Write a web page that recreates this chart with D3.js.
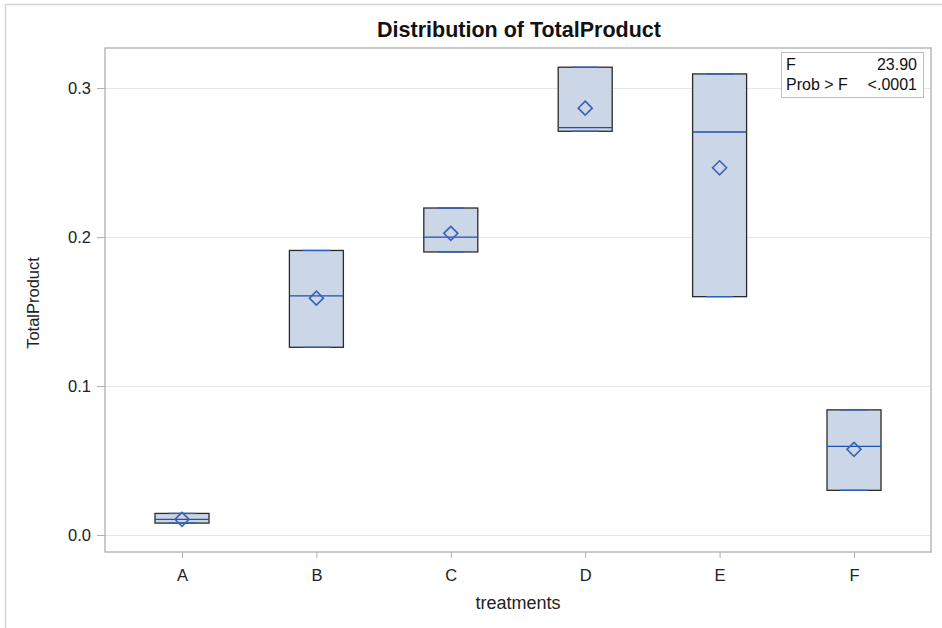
<!DOCTYPE html>
<html><head><meta charset="utf-8">
<script src="https://cdn.jsdelivr.net/npm/d3@7"></script>
<style>body{margin:0;background:#fff}svg{display:block;font-family:"Liberation Sans",Arial,sans-serif}</style>
</head><body>
<svg id="c" width="942" height="628"></svg>
<script>
const categories = ["A","B","C","D","E","F"];
const minV    = [0.008, 0.126, 0.190, 0.271, 0.160, 0.030];
const q1V     = [0.008, 0.126, 0.190, 0.271, 0.160, 0.030];
const medianV = [0.0105,0.1605,0.200, 0.2735,0.2705,0.0595];
const q3V     = [0.0145,0.191, 0.2195,0.314, 0.3095,0.084];
const maxV    = [0.0145,0.191, 0.2195,0.314, 0.3095,0.084];
const meanV   = [0.0105,0.159, 0.2025,0.2865,0.2465,0.0575];
const yTicks  = [0.0, 0.1, 0.2, 0.3];
const statLabels = ["F", "Prob > F"];
const statValues = ["23.90", "<.0001"];

const svg = d3.select("#c");
const L = 105, R = 931, T = 48, B = 552;

// outer border
svg.append("path").attr("d","M5.5,700V4.5H942").attr("fill","none").attr("stroke","#d4d4d4").attr("stroke-width",1.5);

const x = d3.scalePoint().domain(categories).range([L+77, R-77]);
const y = d3.scaleLinear().domain([-0.0114, 0.3269]).range([B, T]);

// grid
svg.append("g").selectAll("line").data(yTicks).join("line")
  .attr("x1",L).attr("x2",R).attr("y1",d=>Math.round(y(d))+0.5).attr("y2",d=>Math.round(y(d))+0.5)
  .attr("stroke","#e6e6e6").attr("stroke-width",1);

const bw = 54;
const g = svg.append("g");
categories.forEach((c,i)=>{
  const cx = x(c);
  const yt = y(q3V[i]), yb = y(q1V[i]);
  g.append("rect").attr("x",cx-bw/2).attr("y",yt).attr("width",bw).attr("height",Math.max(1,yb-yt))
    .attr("fill","#cbd6e6").attr("stroke","#2b2b2b").attr("stroke-width",1.3);
  [maxV[i],minV[i]].forEach(v=>{
    g.append("line").attr("x1",cx-bw/4).attr("x2",cx+bw/4).attr("y1",y(v)).attr("y2",y(v))
      .attr("stroke","#2f5fc0").attr("stroke-width",1.3);
  });
  g.append("line").attr("x1",cx-bw/2).attr("x2",cx+bw/2).attr("y1",y(medianV[i])).attr("y2",y(medianV[i]))
    .attr("stroke","#1f4fb0").attr("stroke-width",1.3);
  const my = y(meanV[i]), s = 7;
  g.append("path").attr("d",`M${cx},${my-s}L${cx+s},${my}L${cx},${my+s}L${cx-s},${my}Z`)
    .attr("fill","none").attr("stroke","#3a62b8").attr("stroke-width",1.6);
});

// frame
svg.append("rect").attr("x",L).attr("y",T).attr("width",R-L).attr("height",B-T)
  .attr("fill","none").attr("stroke","#aab0b4").attr("stroke-width",1.3);

const FF = "Liberation Sans, Arial, sans-serif";
// y axis
const ya = svg.append("g").attr("transform",`translate(${L},0)`)
  .call(d3.axisLeft(y).tickValues(yTicks).tickFormat(d3.format(".1f")).tickSize(8).tickPadding(6));
ya.select(".domain").remove();
ya.selectAll("line").attr("stroke","#aab0b4");
ya.selectAll("text").attr("font-size",16.5).attr("fill","#222").attr("font-family",FF);

// x axis
const xa = svg.append("g").attr("transform",`translate(0,${B})`)
  .call(d3.axisBottom(x).tickSize(6).tickPadding(11));
xa.select(".domain").remove();
xa.selectAll("line").attr("stroke","#aab0b4");
xa.selectAll("text").attr("font-size",16.5).attr("fill","#222").attr("font-family",FF);

// titles
svg.append("text").attr("x",519).attr("y",37).attr("text-anchor","middle")
  .attr("font-size",21.5).attr("font-weight","bold").attr("fill","#111").text("Distribution of TotalProduct");
svg.append("text").attr("x",518).attr("y",609).attr("text-anchor","middle")
  .attr("font-size",18).attr("fill","#222").text("treatments");
svg.append("text").attr("transform","translate(39,303) rotate(-90)").attr("text-anchor","middle")
  .attr("font-size",16.5).attr("fill","#222").text("TotalProduct");

// stats box
const sb = svg.append("g");
sb.append("rect").attr("x",781.5).attr("y",52.5).attr("width",142).attr("height",45)
  .attr("fill","#fff").attr("stroke","#bdbdbd").attr("stroke-width",1);
statLabels.forEach((t,i)=>{
  sb.append("text").attr("x",786).attr("y",70+i*20).attr("font-size",16).attr("fill","#111").text(t);
  sb.append("text").attr("x",917).attr("y",70+i*20).attr("text-anchor","end").attr("font-size",16).attr("fill","#111").text(statValues[i]);
});
</script>
</body></html>
